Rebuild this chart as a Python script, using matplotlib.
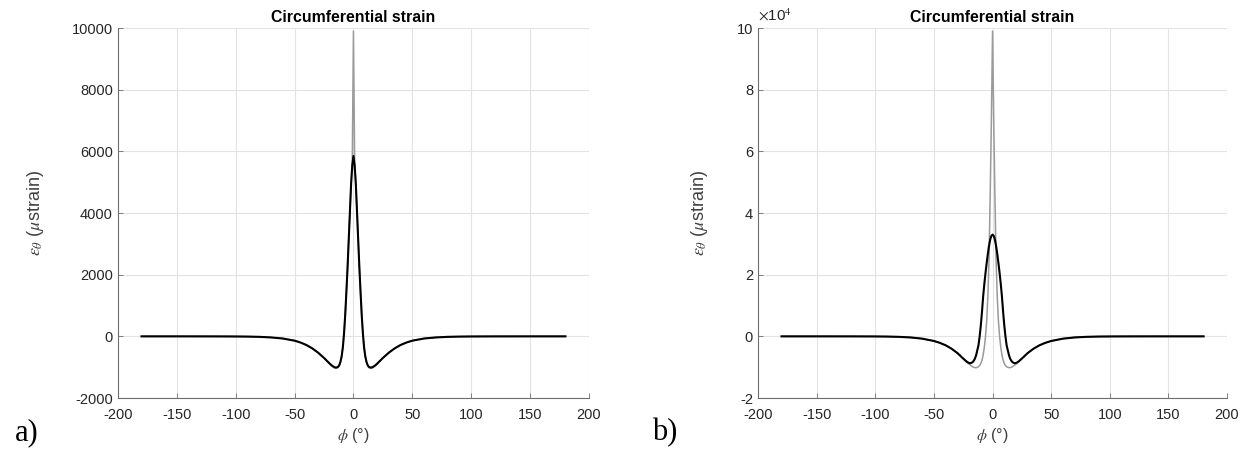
import matplotlib
matplotlib.use('Agg')
import matplotlib.pyplot as plt
from matplotlib.ticker import FuncFormatter

plt.rcParams['font.family'] = ['Liberation Sans', 'DejaVu Sans']
plt.rcParams['mathtext.fontset'] = 'stix'
plt.rcParams['axes.unicode_minus'] = False

# angle (deg)
phi = [-180, -150, -120, -100, -90, -80, -70, -60, -50, -45, -40, -35, -30, -25, -22,
       -20, -19, -18, -17, -16, -15, -14, -13, -12, -11, -10, -9, -8, -7, -6, -5, -4, -3, -2, -1,
       0,
       1, 2, 3, 4, 5, 6, 7, 8, 9, 10, 11, 12, 13, 14, 15, 16, 17, 18, 19, 20,
       22, 25, 30, 35, 40, 45, 50, 60, 70, 80, 90, 100, 120, 150, 180]

# panel a) strain (microstrain)
a_gray = [0, 0, -1, -4, -8, -16, -35, -70, -140, -200, -280, -390, -530, -700, -815,
          -905, -940, -975, -1005, -1030, -1040, -1035, -1010, -950, -820, -640, -350, 100, 700, 1450, 2250, 3150, 4050, 4950, 5650,
          9900,
          5650, 4950, 4050, 3150, 2250, 1450, 700, 100, -350, -640, -820, -950, -1010, -1035, -1040, -1030, -1005, -975, -940, -905,
          -815, -700, -530, -390, -280, -200, -140, -70, -35, -16, -8, -4, -1, 0, 0]
a_black = [0, 0, -1, -4, -8, -16, -35, -70, -140, -200, -280, -390, -530, -700, -815,
           -890, -925, -955, -980, -1000, -1010, -1005, -985, -930, -820, -640, -350, 100, 700, 1450, 2250, 3150, 4050, 4950, 5550,
           5850,
           5550, 4950, 4050, 3150, 2250, 1450, 700, 100, -350, -640, -820, -930, -985, -1005, -1010, -1000, -980, -955, -925, -890,
           -815, -700, -530, -390, -280, -200, -140, -70, -35, -16, -8, -4, -1, 0, 0]

# panel b) strain (microstrain)
b_gray = [0, 0, -5, -30, -70, -160, -350, -750, -1500, -2100, -2900, -4000, -5450, -7300, -8400,
          -9000, -9300, -9600, -9850, -10050, -10150, -10150, -10050, -9850, -9450, -8800, -7700, -6000, -3500, 0, 5000, 13000, 25000, 46000, 70000,
          99000,
          70000, 46000, 25000, 13000, 5000, 0, -3500, -6000, -7700, -8800, -9450, -9850, -10050, -10150, -10150, -10050, -9850, -9600, -9300, -9000,
          -8400, -7300, -5450, -4000, -2900, -2100, -1500, -750, -350, -160, -70, -30, -5, 0, 0]
b_black = [0, 0, -5, -30, -70, -160, -350, -750, -1500, -2100, -2900, -4000, -5400, -7200, -8200,
           -8650, -8700, -8600, -8350, -7900, -7200, -6100, -4500, -2900, 0, 3600, 8000, 13000, 17000, 20600, 23800, 26800, 29400, 31400, 32600,
           33000,
           32600, 31400, 29400, 26800, 23800, 20600, 17000, 13000, 8000, 3600, 0, -2900, -4500, -6100, -7200, -7900, -8350, -8600, -8700, -8650,
           -8200, -7200, -5400, -4000, -2900, -2100, -1500, -750, -350, -160, -70, -30, -5, 0, 0]

xticks = [-200, -150, -100, -50, 0, 50, 100, 150, 200]
a_yticks = [-2000, 0, 2000, 4000, 6000, 8000, 10000]
b_yticks = [-20000, 0, 20000, 40000, 60000, 80000, 100000]

fig = plt.figure(figsize=(12.47, 4.54), dpi=100)
ax_a = fig.add_axes([0.0946, 0.1233, 0.3777, 0.815])
ax_b = fig.add_axes([0.6079, 0.1233, 0.3761, 0.815])

tick_col = '#262626'
spine_col = '#6e6e6e'

for ax, gray, black in [(ax_a, a_gray, a_black), (ax_b, b_gray, b_black)]:
    ax.plot(phi, gray, color='#9a9a9a', lw=1.1)
    ax.plot(phi, black, color='black', lw=1.5)
    ax.set_xlim(-200, 200)
    ax.set_xticks(xticks)
    ax.grid(True, color='#e3e3e3', lw=0.8)
    ax.set_axisbelow(True)
    for s in ['top', 'right']:
        ax.spines[s].set_visible(False)
    for s in ['left', 'bottom']:
        ax.spines[s].set_color(spine_col)
        ax.spines[s].set_linewidth(0.8)
    ax.tick_params(direction='in', length=3.6, width=0.6, color=spine_col,
                   labelcolor=tick_col, labelsize=10.5)
    ax.tick_params(axis='x', pad=7)
    ax.tick_params(axis='y', pad=3.6)
    ax.set_title('Circumferential strain', fontsize=11.4, fontweight='bold', pad=4.5)
    ax.set_xlabel(r'$\phi$ (°)', fontsize=11.5, color='#404040')
    ax.set_ylabel(r'$\varepsilon_\theta$ ($\mu$strain)', fontsize=13, color='#404040')
    ax.xaxis.set_label_coords(0.5, -0.076)

ax_a.set_ylim(-2000, 10000)
ax_a.set_yticks(a_yticks)
ax_a.yaxis.set_label_coords(-0.153, 0.5)

ax_b.set_ylim(-20000, 100000)
ax_b.set_yticks(b_yticks)
ax_b.yaxis.set_major_formatter(FuncFormatter(lambda v, p: '%g' % (v / 1e4)))
ax_b.text(0.0, 1.012, r'$\times$10$^4$', transform=ax_b.transAxes, fontsize=11,
          color=tick_col, ha='left', va='bottom')
ax_b.yaxis.set_label_coords(-0.102, 0.5)

fig.text(0.012, 0.03, 'a)', fontsize=22, family='Liberation Serif')
fig.text(0.523, 0.03, 'b)', fontsize=22, family='Liberation Serif')

fig.savefig('out.png', dpi=100)
